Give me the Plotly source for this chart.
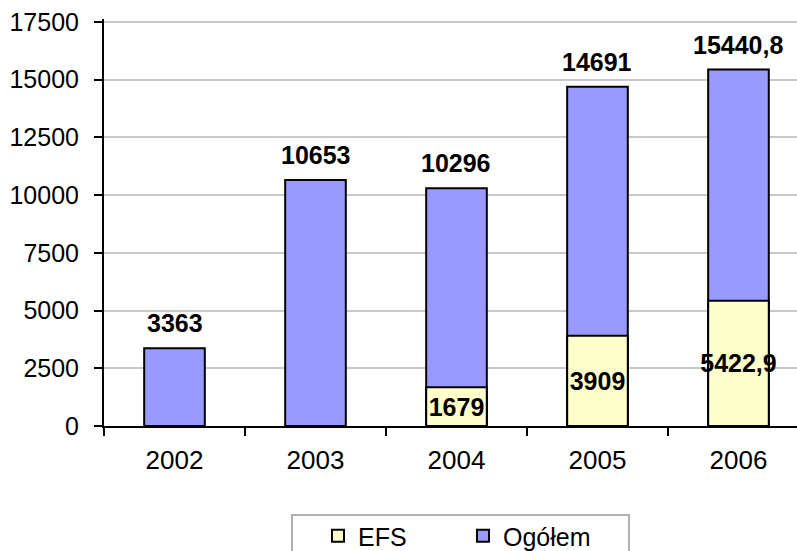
import plotly.graph_objects as go

years = ["2002", "2003", "2004", "2005", "2006"]
ogolem = [3363, 10653, 10296, 14691, 15440.8]
efs = [None, None, 1679, 3909, 5422.9]
y_ticks = [0, 2500, 5000, 7500, 10000, 12500, 15000, 17500]

def fmt(v):
    if v is None:
        return ""
    return ("%g" % v).replace(".", ",")

FONT = "Arial, Liberation Sans, sans-serif"
FS = 25

fig = go.Figure()
fig.add_trace(go.Bar(
    x=years, y=ogolem, name="Ogółem",
    marker=dict(color="#9999FF", line=dict(color="black", width=2)),
    width=0.43, legendrank=2,
))
fig.add_trace(go.Bar(
    x=years, y=efs, name="EFS",
    marker=dict(color="#FFFFCC", line=dict(color="black", width=2)),
    width=0.43, legendrank=1,
    text=[fmt(v) for v in efs], textposition="inside", textangle=0,
    insidetextanchor="middle", constraintext="none",
    textfont=dict(family=FONT, size=FS, color="black", weight="bold"),
))

# total labels above bars (category index positions)
for i, v in enumerate(ogolem):
    fig.add_annotation(x=i, y=v, xref="x", yref="y", text="<b>%s</b>" % fmt(v),
                       showarrow=False, yanchor="bottom", yshift=9,
                       font=dict(family=FONT, size=FS, color="black"))

# legend frame (plot height 407 px, bottom at 426 px)
fig.add_shape(type="rect", xref="paper", yref="paper",
              x0=0.2713, x1=0.7576, y0=-0.2187, y1=-0.5,
              line=dict(color="#b0b0b0", width=2), fillcolor="rgba(0,0,0,0)")

fig.update_layout(
    width=797, height=551,
    margin=dict(l=104, r=0, t=19, b=125, autoexpand=False),
    barmode="overlay",
    plot_bgcolor="white", paper_bgcolor="white",
    font=dict(family=FONT, size=FS, color="black"),
    showlegend=True,
    legend=dict(orientation="h", x=0.3088, xanchor="left", y=-0.2138, yanchor="top",
                borderwidth=0, bgcolor="rgba(0,0,0,0)",
                font=dict(family=FONT, size=FS, color="black"),
                entrywidth=100, entrywidthmode="pixels"),
)
fig.update_xaxes(type="category", range=[-0.5, 4.415], showline=True, linecolor="black",
                 linewidth=2, ticks="outside", tickson="boundaries", ticklen=8, tickwidth=2,
                 tickcolor="black", showgrid=False, ticklabelstandoff=10,
                 tickfont=dict(family=FONT, size=26, color="black"))
fig.update_yaxes(range=[0, 17630], tickvals=y_ticks, ticktext=[str(t) for t in y_ticks],
                 showline=True, linecolor="black",
                 linewidth=2, ticks="outside", ticklen=8, tickwidth=2, tickcolor="black",
                 showgrid=True, gridcolor="#c8c8c8", gridwidth=2, zeroline=False,
                 ticklabelstandoff=10)

fig.write_html("out.html", config={"displayModeBar": False},
               post_script="document.body.style.margin='0px';document.body.style.padding='0px';")
